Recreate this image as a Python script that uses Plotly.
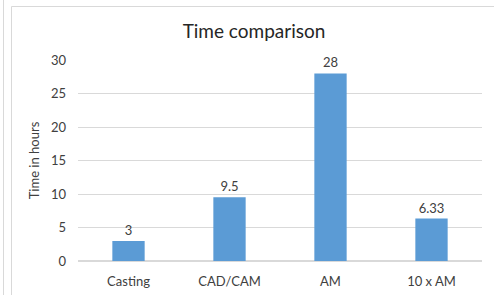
import plotly.graph_objects as go

categories = ["Casting", "CAD/CAM", "AM", "10 x AM"]
hours = [3, 9.5, 28, 6.33]
labels = ["3", "9.5", "28", "6.33"]
tick_vals = [0, 5, 10, 15, 20, 25, 30]

W, H = 494, 295
L, R, T, B = 78, 12, 60, 34
pw = W - L - R
ph = H - T - B

def px(x):
    return (x - L) / pw

def py(y):
    return (H - B - y) / ph

FONT = "Lato, 'Open Sans', sans-serif"

fig = go.Figure(go.Bar(
    x=categories, y=hours, text=labels, textposition="outside",
    textfont=dict(size=13, color="#404040", family=FONT),
    marker=dict(color="#5b9bd5", line=dict(width=0)),
    cliponaxis=False,
))

fig.update_layout(
    width=W, height=H,
    margin=dict(l=L, r=R, t=T, b=B, autoexpand=False),
    paper_bgcolor="white", plot_bgcolor="white",
    bargap=0.68,
    showlegend=False,
    font=dict(family=FONT, color="#595959", size=13),
    title=dict(text="Time comparison", x=254 / W, xanchor="center", xref="container",
               y=1 - 31 / H, yanchor="middle", yref="container",
               font=dict(size=19, color="#262626", family=FONT)),
    xaxis=dict(showgrid=False, showline=False, ticks="", automargin=False,
               ticklabelstandoff=11, tickfont=dict(size=13, color="#404040")),
    yaxis=dict(range=[0, 30], tickvals=tick_vals, showgrid=True, gridcolor="#d9d9d9",
               gridwidth=1, zeroline=True, zerolinecolor="#d9d9d9", showline=False,
               ticks="", ticklabelstandoff=11, automargin=False,
               tickfont=dict(size=13, color="#404040"),
               title=dict(text="Time in hours", standoff=8, font=dict(size=13, color="#404040"))),
)

# surrounding frame lines of the chart box
fig.add_shape(type="line", xref="paper", yref="paper", x0=px(11.5), x1=px(11.5), y0=py(6.5), y1=py(300),
              line=dict(color="#d9d9d9", width=1))
fig.add_shape(type="line", xref="paper", yref="paper", x0=px(11.5), x1=px(500), y0=py(6.5), y1=py(6.5),
              line=dict(color="#d9d9d9", width=1))
fig.add_shape(type="line", xref="paper", yref="paper", x0=px(3.5), x1=px(3.5), y0=py(0), y1=py(300),
              line=dict(color="#d9d9d9", width=1))

fig.write_html("out.html", config={"displayModeBar": False},
               post_script="document.body.style.margin='0px';document.body.style.overflow='hidden';")
